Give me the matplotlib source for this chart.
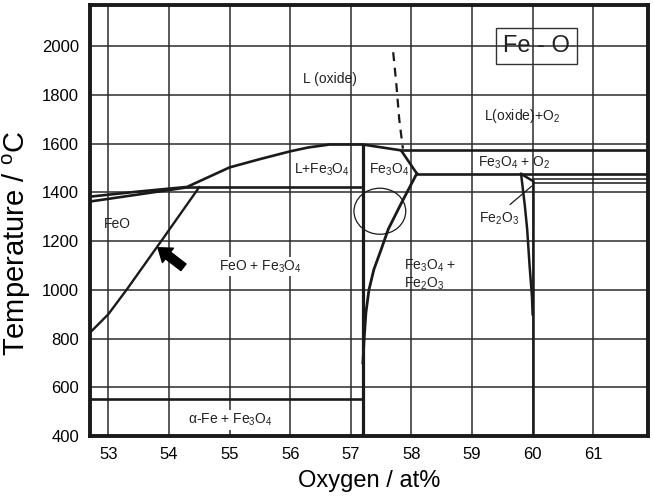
import matplotlib
matplotlib.use("Agg")
import matplotlib.pyplot as plt
from matplotlib.patches import Ellipse
import numpy as np

plt.rcParams['font.family'] = ['Liberation Sans', 'DejaVu Sans']
plt.rcParams['mathtext.fontset'] = 'custom'
plt.rcParams['mathtext.rm'] = 'Liberation Sans'
plt.rcParams['mathtext.it'] = 'Liberation Sans:italic'
plt.rcParams['mathtext.bf'] = 'Liberation Sans:bold'
plt.rcParams['mathtext.default'] = 'regular'

# axis ranges and ticks
x_ticks = [53, 54, 55, 56, 57, 58, 59, 60, 61]
y_ticks = [400, 600, 800, 1000, 1200, 1400, 1600, 1800, 2000]

# liquidus from the FeO side over the Fe3O4 top
liq_x = [52.7, 53.5, 54.3, 55.0, 55.5, 56.0, 56.3, 56.65, 57.2, 57.83, 58.09]
liq_t = [1383, 1404, 1423, 1503, 1537, 1569, 1585, 1597, 1597, 1573, 1478]

# lower FeO line
feo_low_x = [52.7, 54.3]
feo_low_t = [1363, 1421]

# FeO / FeO+Fe3O4 boundary
feo_b_x = [54.5, 53.9, 53.3, 53.0, 52.7]
feo_b_t = [1422, 1210, 1000, 900, 825]

# Fe3O4 / Fe3O4+Fe2O3 boundary
mag_b_x = [58.09, 57.84, 57.62, 57.5, 57.38, 57.3, 57.25, 57.22, 57.2]
mag_b_t = [1478, 1359, 1250, 1165, 1083, 1000, 906, 795, 700]

# Fe2O3 boundary
hem_b_x = [59.81, 59.87, 59.91, 59.95, 59.99, 60.0]
hem_b_t = [1476, 1350, 1250, 1100, 970, 900]

# dashed liquid boundary
dash_x = [57.70, 57.75, 57.80, 57.86]
dash_t = [1976, 1850, 1700, 1580]

# horizontal invariants: (x start, x end, T)
invariants = [
    (54.3, 57.2, 1422),
    (52.7, 57.2, 550),
    (57.83, 61.9, 1574),
    (58.09, 61.9, 1476),
]
thin_invariants = [
    (60.0, 61.9, 1456),
    (60.0, 61.9, 1441),
]

fig = plt.figure(figsize=(6.53, 5.0), dpi=100)
ax = fig.add_axes([0.138, 0.128, 0.854, 0.862])

ax.set_xlim(52.7, 61.9)
ax.set_ylim(400, 2170)
ax.set_xticks(x_ticks)
ax.set_yticks(y_ticks)
ax.tick_params(length=0, labelsize=12, pad=8)
ax.grid(True, color='#2b2b2b', lw=1.1)
ax.set_axisbelow(True)
for s in ax.spines.values():
    s.set_linewidth(2.8)
    s.set_color('#1a1a1a')

lc = '#1a1a1a'
ax.plot(liq_x, liq_t, color=lc, lw=1.9)
ax.plot(feo_low_x, feo_low_t, color=lc, lw=1.9)
ax.plot(feo_b_x, feo_b_t, color=lc, lw=1.7)
ax.plot(mag_b_x, mag_b_t, color=lc, lw=2.0)
ax.plot(hem_b_x, hem_b_t, color=lc, lw=1.8)
ax.plot([59.81, 60.0], [1476, 1448], color=lc, lw=1.8)
ax.plot(dash_x, dash_t, color=lc, lw=1.6, ls=(0, (4, 3)))
for x0, x1, t in invariants:
    ax.plot([x0, x1], [t, t], color=lc, lw=1.9)
for x0, x1, t in thin_invariants:
    ax.plot([x0, x1], [t, t], color=lc, lw=1.1)
ax.plot([57.2, 57.2], [400, 1597], color=lc, lw=2.3)
ax.plot([60.0, 60.0], [400, 1448], color=lc, lw=1.8)

# leader to Fe2O3
ax.plot([59.63, 59.98], [1351, 1425], color=lc, lw=0.9)

# circle
ax.add_patch(Ellipse((57.48, 1323), 0.854, 189, fill=False, ec=lc, lw=0.9))

# arrow
ax.annotate('', xy=(53.82, 1173), xytext=(54.24, 1093),
            arrowprops=dict(arrowstyle='simple, head_length=0.9, head_width=1.3, tail_width=0.6',
                            color='black', shrinkA=0, shrinkB=0))

fs = 10
tc = '#222222'
ax.text(56.66, 1865, 'L (oxide)', fontsize=fs, ha='center', va='center', color=tc)
ax.text(59.83, 1713, 'L(oxide)+O$_2$', fontsize=fs, ha='center', va='center', color=tc)
ax.text(56.53, 1495, 'L+Fe$_3$O$_4$', fontsize=fs, ha='center', va='center', color=tc)
ax.text(57.63, 1495, 'Fe$_3$O$_4$', fontsize=fs, ha='center', va='center', color=tc)
ax.text(59.69, 1523, 'Fe$_3$O$_4$ + O$_2$', fontsize=fs, ha='center', va='center', color=tc)
ax.text(59.45, 1293, 'Fe$_2$O$_3$', fontsize=fs, ha='center', va='center', color=tc)
ax.text(52.93, 1272, 'FeO', fontsize=fs, ha='left', va='center', color=tc)
ax.text(55.51, 1095, 'FeO + Fe$_3$O$_4$', fontsize=fs, ha='center', va='center', color=tc,
        bbox=dict(fc='white', ec='none', pad=1))
ax.text(57.88, 1063, 'Fe$_3$O$_4$ +\nFe$_2$O$_3$', fontsize=fs, ha='left', va='center',
        color=tc, linespacing=1.1)
ax.text(55.02, 466, '\u03b1-Fe + Fe$_3$O$_4$', fontsize=fs, ha='center', va='center', color=tc,
        bbox=dict(fc='white', ec='none', pad=1))

ax.text(60.06, 2000, 'Fe - O', fontsize=17, ha='center', va='center', color=tc,
        bbox=dict(boxstyle='square,pad=0.3', fc='none', ec='#333333', lw=1.0))

ax.set_xlabel('Oxygen / at%', fontsize=17, labelpad=6)
ax.set_ylabel('Temperature / $^{o}$C', fontsize=21)
ax.yaxis.set_label_coords(-0.102, 0.448)

fig.savefig('out.png', dpi=100)
